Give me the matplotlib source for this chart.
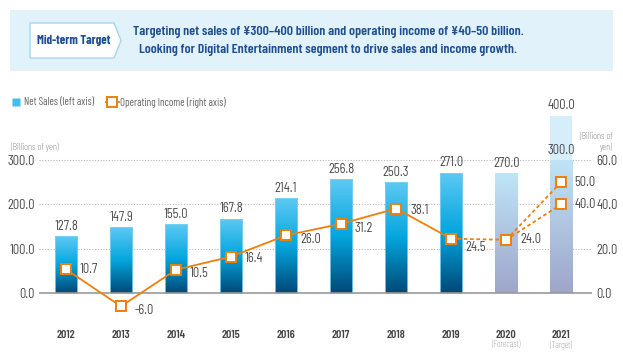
import matplotlib
matplotlib.use('Agg')
import matplotlib.pyplot as plt
import numpy as np
from matplotlib.colors import LinearSegmentedColormap
from matplotlib.patches import Rectangle, Polygon
from matplotlib.lines import Line2D
import matplotlib.transforms as mtrans

# data
years = ['2012', '2013', '2014', '2015', '2016', '2017', '2018', '2019', '2020', '2021']
year_notes = ['', '', '', '', '', '', '', '', '(Forecast)', '(Target)']
net_sales = [127.8, 147.9, 155.0, 167.8, 214.1, 256.8, 250.3, 271.0, 270.0, 300.0]
net_sales_target_high = 400.0
op_income = [10.7, -6.0, 10.5, 16.4, 26.0, 31.2, 38.1, 24.5, 24.0]
op_income_target = [50.0, 40.0]

W, H = 623, 363
SEMI = ['Barlow Semi Condensed', 'DejaVu Sans']
COND = ['Barlow Condensed', 'DejaVu Sans']
ORANGE = '#ee7f0a'
NAVY = '#1d4f91'
GRAY = '#444444'

fig = plt.figure(figsize=(W / 100, H / 100), dpi=100)

def fx(px):
    return px / W

def fy(py):
    return 1 - py / H

# banner on top
fig.add_artist(Rectangle((fx(10), fy(71)), fx(603), 61 / H, transform=fig.transFigure,
                         facecolor='#e1f2fb', edgecolor='none'))
box = [(fx(30), fy(23)), (fx(114), fy(23)), (fx(121), fy(40.5)),
       (fx(114), fy(58)), (fx(30), fy(58))]
fig.add_artist(Polygon(box, closed=True, transform=fig.transFigure,
                       facecolor='white', edgecolor='#a5d6ef', lw=1))
fig.text(fx(74), fy(41), 'Mid-term Target', ha='center', va='center', fontsize=9,
         fontweight='bold', color=NAVY, family=COND)
fig.text(fx(328), fy(32), 'Targeting net sales of ¥300–400 billion and operating income of ¥40–50 billion.',
         ha='center', va='center', fontsize=10, fontweight='semibold', color=NAVY, family=COND)
fig.text(fx(328), fy(50), 'Looking for Digital Entertainment segment to drive sales and income growth.',
         ha='center', va='center', fontsize=10, fontweight='semibold', color=NAVY, family=COND)

# main axes
ax = fig.add_axes([fx(39), 1 - 315 / H, (592 - 39) / W, 220 / H])
ax2 = ax.twinx()
x = np.arange(len(years))
xlim = (-0.49, 9.56)
ylim = (-49.6, 446.6)

for s in ax.spines.values():
    s.set_visible(False)
for s in ax2.spines.values():
    s.set_visible(False)

for g in [100, 200, 300]:
    ax.axhline(g, color='#b5b5b5', lw=0.8, ls=(0, (1, 1.5)), zorder=0)
ax.axhline(0, color='#9a9a9a', lw=1.2, zorder=3)

blue_cm = LinearSegmentedColormap.from_list('b', ['#004877', '#03a6de', '#5ec9f3'])
pale_cm = LinearSegmentedColormap.from_list('p', ['#9ea5c9', '#bfe5f8'])
grad = np.linspace(0, 1, 256).reshape(-1, 1)
bw = 0.4

bars = ax.bar(x, net_sales, width=bw, facecolor='none', edgecolor='none', zorder=2)
for i, b in enumerate(bars):
    cm = blue_cm if i < 8 else pale_cm
    im = ax.imshow(grad, cmap=cm, origin='lower', aspect='auto', zorder=2,
                   extent=(b.get_x(), b.get_x() + bw, 0, b.get_height()))
    im.set_clip_path(b)
# upper part of the 2021 target range
ax.bar(x[9], net_sales_target_high - net_sales[9], bottom=net_sales[9], width=bw,
       color='#d6eefa', zorder=2)
ax.bar(x[:8], net_sales[:8], width=bw, facecolor='none', edgecolor='#7fd0f1', lw=0.6, zorder=2)

ax.set_xlim(*xlim)
ax.set_ylim(*ylim)

num = dict(fontsize=9, color=GRAY, family=SEMI)
for i, v in enumerate(net_sales):
    ax.annotate(f'{v:.1f}', (x[i], v), xytext=(0, 2.5), textcoords='offset points',
                ha='center', va='bottom', zorder=5, **num)
ax.annotate(f'{net_sales_target_high:.1f}', (x[9], net_sales_target_high), xytext=(0, 2.5),
            textcoords='offset points', ha='center', va='bottom', **num)

ax.set_yticks([0, 100, 200, 300])
ax.set_yticklabels([f'{t:.1f}' for t in [0, 100, 200, 300]], **num)
ax.tick_params(axis='y', length=0, pad=3)
ax.set_xticks(x)
ax.set_xticklabels(years, fontsize=8.5, color=GRAY, fontweight='semibold', family=COND)
ax.tick_params(axis='x', length=0, pad=10.5)
trans = mtrans.blended_transform_factory(ax.transData, ax.transAxes)
for i, n in enumerate(year_notes):
    if n:
        ax.annotate(n, (x[i], 0), xycoords=trans, xytext=(0, -21.5), textcoords='offset points',
                    ha='center', va='center', fontsize=6.5, color='#777777', family=COND,
                    fontweight='light')

# operating income on right axis
ax2.set_ylim(ylim[0] / 5, ylim[1] / 5)
ax2.set_yticks([0, 20, 40, 60])
ax2.set_yticklabels([f'{t:.1f}' for t in [0, 20, 40, 60]], **num)
ax2.tick_params(axis='y', length=0, pad=3)

mk = dict(marker='s', markersize=6.5, markerfacecolor='white', markeredgecolor=ORANGE,
          markeredgewidth=1.4)
ax2.plot(x[:8], op_income[:8], color=ORANGE, lw=1.3, zorder=4, **mk)
ax2.plot(x[7:9], op_income[7:9], color=ORANGE, lw=1.3, ls=(0, (2, 1.5)), zorder=3, **mk)
for t in op_income_target:
    ax2.plot([x[8], x[9]], [op_income[8], t], color=ORANGE, lw=1.3, ls=(0, (2, 1.5)),
             zorder=3, **mk)
ax2.plot([x[8]], [op_income[8]], ls='none', zorder=5, **mk)

dy = [0, -3, -3, -1.5, -3, -3, -1.5, -6.5, 0]
for i, v in enumerate(op_income):
    ax2.annotate(f'{v:.1f}', (x[i], v), xytext=(10, dy[i]), textcoords='offset points',
                 ha='left', va='center', zorder=6, **num)
for t in op_income_target:
    ax2.annotate(f'{t:.1f}', (x[9], t), xytext=(9.5, 0), textcoords='offset points',
                 ha='left', va='center', zorder=6, **num)

# axis unit labels
fig.text(fx(11), fy(147), '(Billions of yen)', ha='left', va='center', fontsize=7,
         color='#555555', family=COND, fontweight='light')
fig.text(fx(613), fy(142), '(Billions of\nyen)', ha='right', va='center', fontsize=7,
         color='#555555', family=COND, fontweight='light', linespacing=1.2)

# legend
handles = [Line2D([], [], ls='none', marker='s', markersize=5.5, markerfacecolor='#45bdea',
                  markeredgecolor='none'),
           Line2D([], [], color=ORANGE, lw=1.3, **mk)]
fig.legend(handles, ['Net Sales (left axis)', 'Operating Income (right axis)'],
           loc='center left', bbox_to_anchor=(fx(9), fy(102)), ncol=2, frameon=False,
           prop={'family': COND, 'size': 7.8}, labelcolor='#666666',
           borderpad=0, borderaxespad=0, handlelength=1.2, handletextpad=0.15,
           columnspacing=1.1)

fig.savefig('out.png', dpi=100)
